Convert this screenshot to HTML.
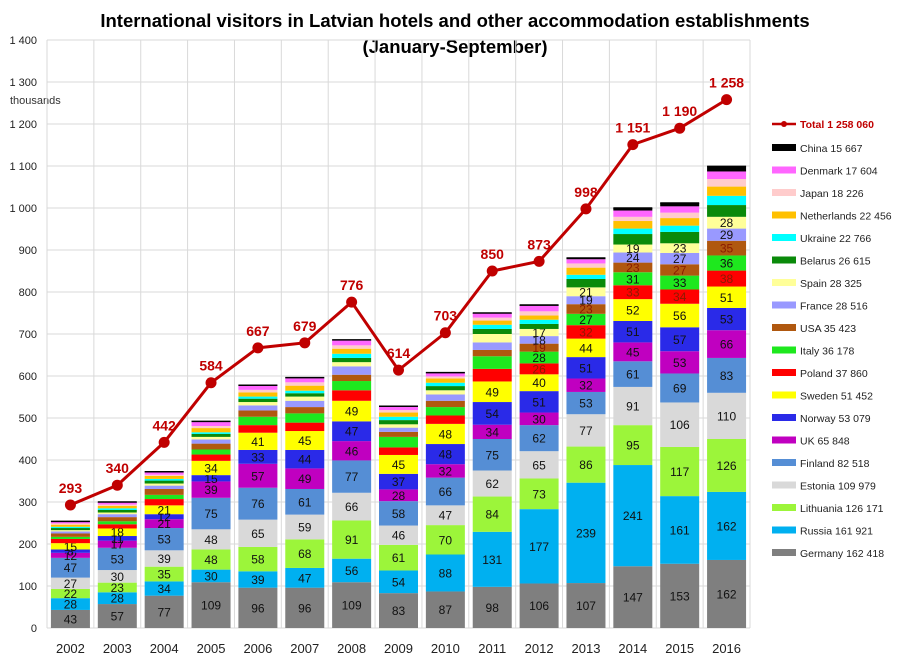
<!DOCTYPE html>
<html><head><meta charset="utf-8"><style>
body{margin:0;background:#fff;}
svg{display:block;font-family:"Liberation Sans",Calibri,sans-serif;}
</style></head><body>
<svg id="c" width="914" height="666">
<text x="455" y="27" text-anchor="middle" font-size="18.5" font-weight="bold">International visitors in Latvian hotels and other accommodation establishments</text>
<text x="455" y="53" text-anchor="middle" font-size="18.5" font-weight="bold">(January-September)</text>
<text x="10" y="104" font-size="11" fill="#333">thousands</text>
<g id="grid"></g><g id="bars"></g><g id="line"></g><g id="axes"></g><g id="legend"></g>
</svg>
<script>
const years=["2002","2003","2004","2005","2006","2007","2008","2009","2010","2011","2012","2013","2014","2015","2016"];
const seriesNames=["Germany","Russia","Lithuania","Estonia","Finland","UK","Norway","Sweden","Poland","Italy","USA","France","Spain","Belarus","Ukraine","Netherlands","Japan","Denmark","China"];
const legendTotals=["162 418","161 921","126 171","109 979","82 518","65 848","53 079","51 452","37 860","36 178","35 423","28 516","28 325","26 615","22 766","22 456","18 226","17 604","15 667"];
const colors=["#7f7f7f","#00b0f0","#9cf53a","#d9d9d9","#558ed5","#c000c0","#2a2ae8","#ffff00","#ff0000","#1ee81e","#b0580f","#9999ff","#ffff99","#0a8a0a","#00ffff","#ffc000","#ffcccc","#ff66ff","#000000"];
const germany=[43,57,77,109,96,96,109,83,87,98,106,107,147,153,162];
const russia=[28,28,34,30,39,47,56,54,88,131,177,239,241,161,162];
const lithuania=[22,23,35,48,58,68,91,61,70,84,73,86,95,117,126];
const estonia=[27,30,39,48,65,59,66,46,47,62,65,77,91,106,110];
const finland=[47,53,53,75,76,61,77,58,66,75,62,53,61,69,83];
const uk=[12,17,21,39,57,49,46,28,32,34,30,32,45,53,66];
const norway=[8,11,12,15,33,44,47,37,48,54,51,51,51,57,53];
const sweden=[15,18,21,34,41,45,49,45,48,49,40,44,52,56,51];
const poland=[10,10,15,15,18,20,25,18,20,30,26,32,33,34,38];
const italy=[5,7,10,12,20,22,22,25,20,30,28,27,31,33,36];
const usa=[8,10,14,14,15,15,15,12,15,15,19,23,23,27,35];
const france=[5,7,8,10,12,15,20,10,15,18,18,19,24,27,29];
const spain=[3,4,5,6,8,10,10,8,10,20,17,21,19,23,28];
const belarus=[5,6,7,7,8,8,10,10,10,12,12,20,25,27,28];
const ukraine=[3,4,4,4,5,6,10,8,8,10,10,10,13,15,22];
const netherlands=[5,6,7,10,10,12,12,10,10,10,10,17,18,18,22];
const japan=[3,3,3,5,6,8,8,6,5,7,10,10,10,13,18];
const denmark=[4,5,6,10,10,10,12,8,8,10,13,10,15,15,18];
const china=[1,1,1,1,1,1,1,1,1,1,2,3,6,8,12];
const totals=[293,340,442,584,667,679,776,614,703,850,873,998,1151,1190,1258];
const yTicks=[0,100,200,300,400,500,600,700,800,900,1000,1100,1200,1300,1400];
const series=[germany,russia,lithuania,estonia,finland,uk,norway,sweden,poland,italy,usa,france,spain,belarus,ukraine,netherlands,japan,denmark,china];

const NS="http://www.w3.org/2000/svg";
const X0=47,X1=750,Y0=628,YT=40,YMAX=1400;
const bw=(X1-X0)/years.length;
const y=v=>Y0-(v/YMAX)*(Y0-YT);
const xc=i=>X0+bw*(i+0.5);
const fmt=n=>n>=1000?Math.floor(n/1000)+" "+String(n%1000).padStart(3,"0"):String(n);
function mk(tag,attrs,parent,txt){const e=document.createElementNS(NS,tag);for(const k in attrs)e.setAttribute(k,attrs[k]);if(txt!=null)e.textContent=txt;parent.appendChild(e);return e;}
const G=document.getElementById("grid"),B=document.getElementById("bars"),L=document.getElementById("line"),A=document.getElementById("axes"),LG=document.getElementById("legend");

yTicks.forEach(t=>{
  const l=mk("line",{x1:X0,x2:X1,y1:y(t),y2:y(t),stroke:"#d9d9d9","stroke-width":1},G);
  
  
  const tx=mk("text",{x:37,y:y(t)+4,"text-anchor":"end","font-size":11,fill:"#222"},A,fmt(t));
  
  
});
for(let i=0;i<=years.length;i++){
  const l=mk("line",{x1:X0+bw*i,x2:X0+bw*i,y1:YT,y2:Y0,stroke:"#d9d9d9","stroke-width":1},G);
  
  
}
years.forEach((yr,i)=>{
  const tx=mk("text",{x:xc(i),y:653,"text-anchor":"middle","font-size":13,fill:"#222"},A,yr);
  
  
});

const BW=39;
years.forEach((yr,i)=>{
  let acc=0;
  series.forEach((s,k)=>{
    const v=s[i];
    const r=mk("rect",{x:xc(i)-BW/2,y:y(acc+v),width:BW,height:y(acc)-y(acc+v),fill:colors[k]},B);
    
    
    const show=k<8||(k<13&&i>=10);
    if(show){
      const lc=(k===8||k===10)?"#8a1a00":"#111";
      const t=mk("text",{x:xc(i),y:(y(acc)+y(acc+v))/2+4.5,"text-anchor":"middle","font-size":12,fill:lc},B,String(v));
      
      
    }
    acc+=v;
  });
  const cap=mk("line",{x1:xc(i)-BW/2,x2:xc(i)+BW/2,y1:y(acc),y2:y(acc),stroke:"#000","stroke-width":1.5},B);
  
  
});

const pts=totals.map((v,i)=>xc(i)+","+y(v)).join(" ");
const pl=mk("polyline",{points:pts,fill:"none",stroke:"#c00000","stroke-width":3},L);


totals.forEach((v,i)=>{
  const c=mk("circle",{cx:xc(i),cy:y(v),r:5.5,fill:"#c00000"},L);
  
  
  const t=mk("text",{x:xc(i),y:y(v)-12,"text-anchor":"middle","font-size":14,"font-weight":"bold",fill:"#c00000"},L,fmt(v));
  
  
});

const ln=mk("line",{x1:772,x2:796,y1:124,y2:124,stroke:"#c00000","stroke-width":2.5},LG);


const lc=mk("circle",{cx:784,cy:124,r:3,fill:"#c00000"},LG);


const lt=mk("text",{x:800,y:128,"font-size":10.5,"font-weight":"bold",fill:"#c00000"},LG,"Total 1 258 060");


for(let k=seriesNames.length-1;k>=0;k--){
  const row=seriesNames.length-1-k;
  const yy=148+row*22.5;
  const sw=mk("rect",{x:772,y:yy-4,width:24,height:7,fill:colors[k]},LG);
  
  
  const t=mk("text",{x:800,y:yy+4,"font-size":10.5,fill:"#222"},LG,seriesNames[k]+" "+legendTotals[k]);
  
  
}
</script>
</body></html>
